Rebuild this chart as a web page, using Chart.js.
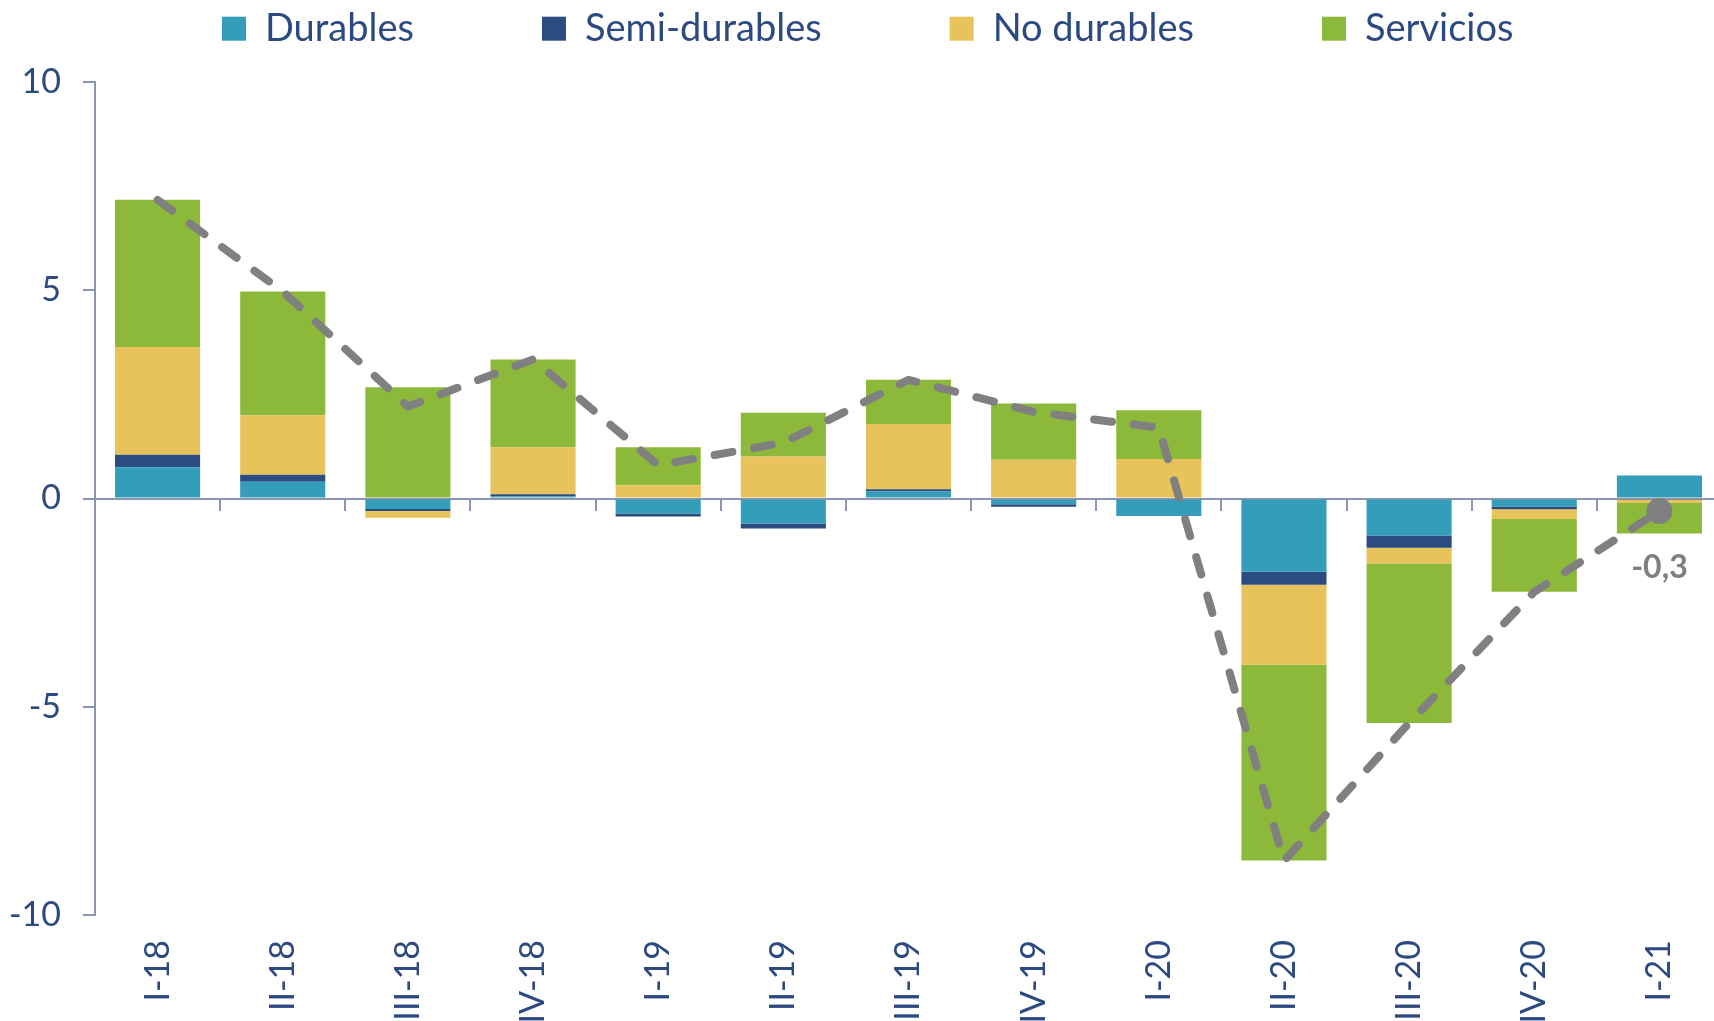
<!DOCTYPE html>
<html>
<head>
<meta charset="utf-8">
<script src="https://cdn.jsdelivr.net/npm/chart.js@4.4.1/dist/chart.umd.min.js"></script>
<style>
  html, body { margin: 0; padding: 0; background: #ffffff; overflow: hidden; }
  #wrap { width: 1714px; height: 1021px; overflow: hidden; position: relative; }
  canvas { display: block; }
</style>
</head>
<body>
<div id="wrap"><canvas id="c" width="1735" height="1021"></canvas></div>
<script>
// ---- data ----
const categories = ['I-18','II-18','III-18','IV-18','I-19','II-19','III-19','IV-19','I-20','II-20','III-20','IV-20','I-21'];
const durables    = [0.75, 0.40, -0.25, 0.05, -0.36, -0.60, 0.17, -0.14, -0.42, -1.76, -0.89, -0.19, 0.55];
const semiDurables= [0.30, 0.17, -0.05, 0.05, -0.07, -0.12, 0.05, -0.06, 0.00, -0.31, -0.29, -0.07, -0.03];
const noDurables  = [2.59, 1.43, -0.16, 1.13, 0.32, 1.01, 1.57, 0.93, 0.95, -1.92, -0.38, -0.23, -0.08];
const servicios   = [3.53, 2.97, 2.67, 2.11, 0.91, 1.05, 1.06, 1.35, 1.17, -4.70, -3.83, -1.75, -0.73];
const total       = [7.17, 4.97, 2.21, 3.34, 0.80, 1.34, 2.85, 2.08, 1.70, -8.70, -5.39, -2.24, -0.30];
const seriesNames = ['Durables', 'Semi-durables', 'No durables', 'Servicios'];
const yTicks = { min: -10, max: 10, step: 5 };

// ---- styles ----
const colors = ['#339DBA', '#2B4C80', '#E8C25A', '#8DB93A'];
const textColor = '#2C4A80';
const axisColor = '#8A95B2';
const lineColor = '#808080';

Chart.defaults.font.family = 'Lato, "Open Sans", sans-serif';
Chart.defaults.color = textColor;

const LEG_PAD = 128;

const legendPlacer = {
  id: 'legendPlacer',
  afterLayout(chart) {
    const lg = chart.legend;
    if (!lg) return;
    lg.top = 9.7 - LEG_PAD;
    lg.bottom = 75;
    lg.left = 222 - LEG_PAD;
    lg.right = 1735 + 400;
  }
};

const lastLabel = {
  id: 'lastLabel',
  afterDatasetsDraw(chart) {
    const idx = chart.data.datasets.findIndex(d => d.type === 'line');
    const meta = chart.getDatasetMeta(idx);
    const i = total.length - 1;
    const pt = meta.data[i];
    if (!pt) return;
    const ctx = chart.ctx;
    ctx.save();
    ctx.font = 'bold 32px Lato, sans-serif';
    ctx.fillStyle = '#7F7F7F';
    ctx.textAlign = 'center';
    ctx.textBaseline = 'middle';
    ctx.fillText(total[i].toFixed(1).replace('.', ','), pt.x, pt.y + 57);
    ctx.restore();
  }
};

const barSets = [durables, semiDurables, noDurables, servicios].map((arr, k) => ({
  type: 'bar',
  label: seriesNames[k],
  data: arr,
  backgroundColor: colors[k],
  borderWidth: 0,
  stack: 'comp',
  order: 1,
  categoryPercentage: 1.0,
  barPercentage: 0.68
}));

const lineSet = {
  type: 'line',
  label: 'Total',
  data: total,
  borderColor: lineColor,
  borderWidth: 8,
  borderDash: [18, 22],
  borderCapStyle: 'round',
  borderJoinStyle: 'round',
  tension: 0,
  fill: false,
  stack: 'total',
  order: 0,
  pointRadius: total.map((v, i) => i === total.length - 1 ? 13 : 0),
  pointBackgroundColor: lineColor,
  pointBorderWidth: 0,
  pointHoverRadius: 0
};

new Chart(document.getElementById('c'), {
  data: { labels: categories, datasets: [...barSets, lineSet] },
  options: {
    responsive: false,
    animation: false,
    devicePixelRatio: 1,
    layout: { padding: { top: 32, left: 0, right: 0, bottom: 0 } },
    plugins: {
      tooltip: { enabled: false },
      legend: {
        display: true,
        position: 'top',
        align: 'start',
        maxHeight: 50,
        labels: {
          boxWidth: 24,
          boxHeight: 24,
          padding: LEG_PAD,
          color: textColor,
          font: { size: 38 },
          filter: item => item.text !== 'Total'
        }
      }
    },
    scales: {
      x: {
        type: 'category',
        stacked: true,
        offset: true,
        position: 'bottom',
        border: { display: false },
        grid: { display: false, drawTicks: false },
        ticks: {
          minRotation: 90,
          maxRotation: 90,
          padding: 25,
          color: textColor,
          font: { size: 34 },
          autoSkip: false
        },
        afterFit: s => { s.height = 106; }
      },
      x2: {
        type: 'category',
        offset: true,
        position: { y: 0 },
        border: { display: true, color: axisColor, width: 2 },
        grid: { display: true, offset: true, drawOnChartArea: false, drawTicks: true, tickLength: 11, color: axisColor, lineWidth: 2 },
        ticks: { display: false },
        afterFit: s => { s.height = 0; }
      },
      y: {
        stacked: true,
        min: yTicks.min,
        max: yTicks.max,
        position: 'left',
        border: { display: true, color: axisColor, width: 2 },
        grid: { display: true, drawOnChartArea: false, drawTicks: true, tickLength: 12, color: axisColor, lineWidth: 2 },
        ticks: {
          stepSize: yTicks.step,
          padding: 22,
          color: textColor,
          font: { size: 34 },
          callback: v => String(v)
        },
        afterFit: s => { s.width = 95; }
      }
    }
  },
  plugins: [legendPlacer, lastLabel]
});
</script>
</body>
</html>
